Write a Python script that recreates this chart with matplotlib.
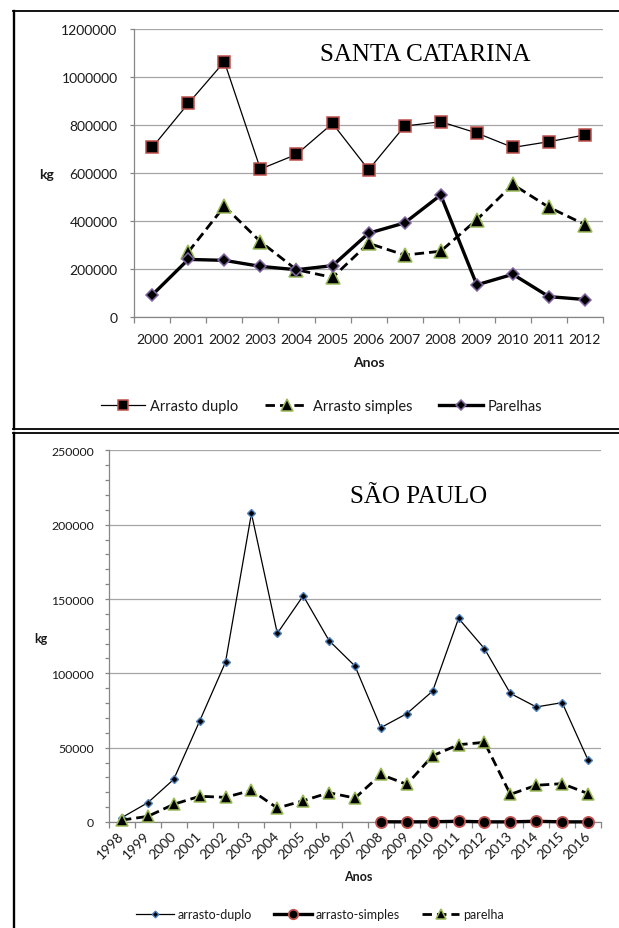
import numpy as np
import matplotlib
matplotlib.use("Agg")
import matplotlib.pyplot as plt
from matplotlib.lines import Line2D
from matplotlib.ticker import MultipleLocator, FixedLocator

# ---------------- data: Santa Catarina ----------------
sc_years = ["2000", "2001", "2002", "2003", "2004", "2005", "2006",
            "2007", "2008", "2009", "2010", "2011", "2012"]
sc_arrasto_duplo = [707000, 890000, 1064000, 617000, 678000, 807000, 614000,
                    796000, 814000, 767000, 707000, 731000, 759000]
sc_arrasto_simples = [None, 272000, 462000, 315000, 198000, 166000, 308000,
                      259000, 275000, 406000, 553000, 458000, 386000]
sc_parelhas = [93000, 241000, 237000, 212000, 198000, 215000, 350000,
               393000, 509000, 135000, 179000, 86000, 74000]

# ---------------- data: São Paulo ----------------
sp_years = ["1998", "1999", "2000", "2001", "2002", "2003", "2004", "2005",
            "2006", "2007", "2008", "2009", "2010", "2011", "2012", "2013",
            "2014", "2015", "2016"]
sp_arrasto_duplo = [3000, 13000, 28700, 67900, 107600, 207600, 126900, 152200,
                    122000, 104900, 63500, 72900, 88100, 137000, 116600, 86500,
                    77400, 80300, 41700]
sp_arrasto_simples = [None] * 10 + [150, 100, 150, 500, 100, 100, 500, 100, 100]
sp_parelha = [1300, 3800, 11900, 17300, 16600, 21300, 9400, 14300, 19700,
              16100, 32000, 25300, 44600, 52000, 53600, 18600, 24700, 25800,
              19100]

W, H = 619, 929
DPI = 100
fig = plt.figure(figsize=(W / DPI, H / DPI), dpi=DPI)
fig.patch.set_facecolor("white")

SANS = ["Lato", "DejaVu Sans"]
SERIF = ["Liberation Serif", "DejaVu Serif"]
GRID = "#a6a6a6"
AXIS = "#868686"
TXT = "#1a1a1a"


def box(x0, y0, x1, y1):
    """Axes rectangle from pixel coordinates (top-left origin)."""
    return [x0 / W, 1 - y1 / H, (x1 - x0) / W, (y1 - y0) / H]


def fig_line(xs, ys, lw):
    fig.add_artist(Line2D([x / W for x in xs], [1 - y / H for y in ys],
                          transform=fig.transFigure, color="black", lw=lw,
                          solid_capstyle="projecting"))


def vals(seq):
    return np.array([np.nan if v is None else v for v in seq], dtype=float)


def style_axes(ax, n, labels, ymax, ystep, ysize, xsize, rot=False,
               minor_y=None):
    ax.set_xlim(-0.5, n - 0.5)
    ax.set_ylim(0, ymax)
    for s in ("top", "right"):
        ax.spines[s].set_visible(False)
    for s in ("left", "bottom"):
        ax.spines[s].set_color(AXIS)
        ax.spines[s].set_linewidth(0.9)
    ax.yaxis.set_major_locator(MultipleLocator(ystep))
    ax.grid(axis="y", color=GRID, lw=0.9)
    ax.set_axisbelow(True)
    ax.set_xticks(np.arange(n))
    ax.xaxis.set_minor_locator(FixedLocator(np.arange(n + 1) - 0.5))
    ax.tick_params(axis="x", which="major", length=0)
    ax.tick_params(axis="x", which="minor", length=4, color=AXIS, width=0.9)
    ax.tick_params(axis="y", which="both", length=3, color=AXIS, width=0.9,
                   labelsize=ysize, labelcolor=TXT)
    if minor_y:
        ax.yaxis.set_minor_locator(MultipleLocator(minor_y))
    ax.yaxis.set_major_formatter(matplotlib.ticker.FuncFormatter(
        lambda v, p: f"{int(v)}"))
    for t in ax.get_yticklabels():
        t.set_fontfamily(SANS)
    if rot:
        ax.set_xticklabels(labels, rotation=45, ha="right", va="center",
                           rotation_mode="anchor", fontsize=xsize,
                           family=SANS, color=TXT)
        ax.tick_params(axis="x", which="major", pad=8)
    else:
        ax.set_xticklabels(labels, fontsize=xsize, family=SANS, color=TXT)
        ax.tick_params(axis="x", which="major", pad=11)


# ---------------- panel frames ----------------
fig_line([14, 14], [11.8, 430.2], 1.7)
fig_line([13, 619], [11.8, 11.8], 1.3)
fig_line([13, 619], [430.2, 430.2], 1.3)
fig_line([13, 619], [433.5, 433.5], 1.3)
fig_line([14, 14], [433.5, 929], 1.7)

# ---------------- Santa Catarina ----------------
ax1 = fig.add_axes(box(134.2, 30, 603, 318.3))
x1 = np.arange(len(sc_years))
ax1.plot(x1, vals(sc_arrasto_duplo), color="black", lw=0.9, marker="s",
         ms=9, mfc="black", mec="#c0504d", mew=1.1, label="Arrasto duplo",
         zorder=3)
ax1.plot(x1, vals(sc_arrasto_simples), color="black", lw=2.0,
         dashes=(3.4, 1.8), marker="^", ms=10, mfc="black", mec="#9bbb59",
         mew=1.1, label="Arrasto simples", zorder=4)
ax1.plot(x1, vals(sc_parelhas), color="black", lw=2.4, marker="D", ms=6.5,
         mfc="black", mec="#8064a2", mew=1.1, label="Parelhas", zorder=5)
style_axes(ax1, len(sc_years), sc_years, 1200000, 200000, 10, 10)
ax1.tick_params(axis="y", pad=9)

fig.text(425.6 / W, 1 - 55 / H, "SANTA CATARINA", family=SERIF, fontsize=18,
         ha="center", va="center", color="black")
fig.text(46 / W, 1 - 175 / H, "kg", family=SANS, fontsize=10,
         fontweight="bold", ha="center", va="center", color=TXT)
fig.text(369 / W, 1 - 363 / H, "Anos", family=SANS, fontsize=10,
         fontweight="bold", ha="center", va="center", color=TXT)
leg1 = fig.legend(handles=ax1.get_lines(), loc="center",
                  bbox_to_anchor=(322 / W, 1 - 407 / H), ncol=3, frameon=False,
                  prop={"family": SANS, "size": 10.5}, handlelength=3.0,
                  handletextpad=0.35, columnspacing=1.8, markerscale=0.8)
for t in leg1.get_texts():
    t.set_color(TXT)

# ---------------- São Paulo ----------------
ax2 = fig.add_axes(box(109, 451.4, 601, 823))
x2 = np.arange(len(sp_years))
ax2.plot(x2, vals(sp_arrasto_duplo), color="black", lw=0.9, marker="D",
         ms=4.0, mfc="black", mec="#4f81bd", mew=1.0, label="arrasto-duplo",
         zorder=3)
ax2.plot(x2, vals(sp_arrasto_simples), color="black", lw=2.4, marker="o",
         ms=8.0, mfc="black", mec="#c0504d", mew=1.3, label="arrasto-simples",
         zorder=5, clip_on=False)
ax2.plot(x2, vals(sp_parelha), color="black", lw=2.0, dashes=(3.4, 1.8),
         marker="^", ms=9.0, mfc="black", mec="#9bbb59", mew=1.1,
         label="parelha", zorder=4, clip_on=False)
style_axes(ax2, len(sp_years), sp_years, 250000, 50000, 8.8, 10, rot=True,
           minor_y=10000)
ax2.tick_params(axis="y", pad=8)

fig.text(418.5 / W, 1 - 496.7 / H, "SÃO PAULO", family=SERIF, fontsize=18,
         ha="center", va="center", color="black")
fig.text(41 / W, 1 - 639 / H, "kg", family=SANS, fontsize=9,
         fontweight="bold", ha="center", va="center", color=TXT)
fig.text(358 / W, 1 - 876.7 / H, "Anos", family=SANS, fontsize=9,
         fontweight="bold", ha="center", va="center", color=TXT)
leg2 = fig.legend(handles=ax2.get_lines(), loc="center",
                  bbox_to_anchor=(320 / W, 1 - 915 / H), ncol=3, frameon=False,
                  prop={"family": SANS, "size": 9}, handlelength=3.0,
                  handletextpad=0.3, columnspacing=1.8, markerscale=0.85)
for t in leg2.get_texts():
    t.set_color(TXT)

fig.savefig("out.png", dpi=DPI, facecolor="white")
